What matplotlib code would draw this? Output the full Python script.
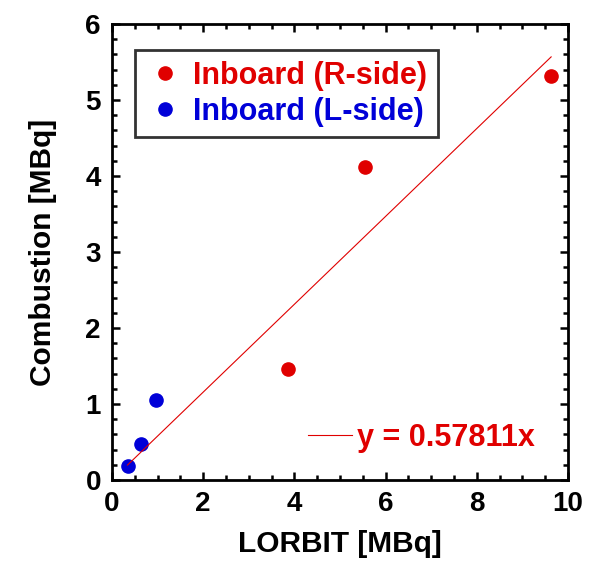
import matplotlib
matplotlib.use("Agg")
import matplotlib.pyplot as plt
from matplotlib.ticker import MultipleLocator
import numpy as np

plt.rcParams['font.family'] = ['Liberation Sans', 'DejaVu Sans']
plt.rcParams['font.weight'] = 'bold'

# data
r_x = [3.86, 5.55, 9.63]
r_y = [1.46, 4.12, 5.31]
l_x = [0.34, 0.64, 0.96]
l_y = [0.18, 0.47, 1.05]
slope = 0.57811

RED = '#E00000'
BLUE = '#0000D8'

fig = plt.figure(figsize=(5.89, 5.65), dpi=100)
ax = fig.add_axes([112 / 589, 1 - 480 / 565, 456 / 589, 456 / 565])

p1, = ax.plot(r_x, r_y, 'o', color=RED, markersize=9.5, label='Inboard (R-side)')
p2, = ax.plot(l_x, l_y, 'o', color=BLUE, markersize=9.5, label='Inboard (L-side)')

# fit line through origin, drawn over the data range
all_x = np.array(r_x + l_x)
fx = np.array([all_x.min(), all_x.max()])
fit, = ax.plot(fx, slope * fx, '-', color=RED, linewidth=0.8, label=f'y = {slope}x')

ax.set_xlim(0, 10)
ax.set_ylim(0, 6)
ax.xaxis.set_major_locator(MultipleLocator(2))
ax.xaxis.set_minor_locator(MultipleLocator(0.5))
ax.yaxis.set_major_locator(MultipleLocator(1))
ax.yaxis.set_minor_locator(MultipleLocator(0.2))
ax.tick_params(which='both', direction='in', top=True, right=True, width=1.8)
ax.tick_params(which='major', length=6, labelsize=20, pad=8)
ax.tick_params(which='minor', length=3.5)
for s in ax.spines.values():
    s.set_linewidth(2)

ax.set_xlabel('LORBIT [MBq]', fontsize=21.5, fontweight='bold')
ax.set_ylabel('Combustion [MBq]', fontsize=21.5, fontweight='bold')
ax.xaxis.set_label_coords(0.5, -0.11)
ax.yaxis.set_label_coords(-0.12, 0.5)

leg1 = ax.legend(handles=[p1, p2], loc='upper left', bbox_to_anchor=(0.05, 0.943),
                 borderaxespad=0, fontsize=22, frameon=True, fancybox=False,
                 edgecolor='black', handlelength=1.3, handletextpad=0.25,
                 borderpad=0.35, labelspacing=0.2, labelcolor=[RED, BLUE])
leg1.get_frame().set_linewidth(2)
for t in leg1.get_texts():
    t.set_fontweight('bold')
ax.add_artist(leg1)

leg2 = ax.legend(handles=[fit], loc='center left', bbox_to_anchor=(0.43, 0.093),
                 borderaxespad=0, borderpad=0, fontsize=22, frameon=False,
                 handlelength=1.44, handletextpad=0.15, labelcolor=RED)
for t in leg2.get_texts():
    t.set_fontweight('bold')

fig.savefig('out.png', dpi=100)
